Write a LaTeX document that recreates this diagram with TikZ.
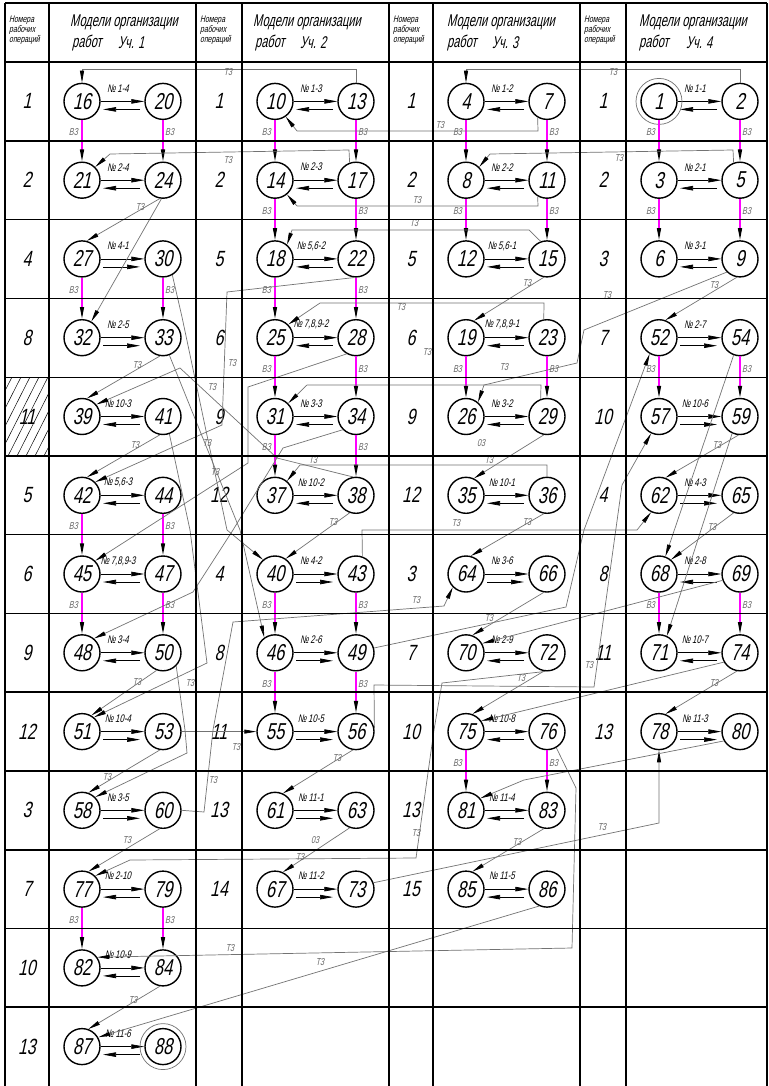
\documentclass[tikz,border=0pt]{standalone}
\usepackage{fontspec}
\usetikzlibrary{arrows.meta,calc}
\newfontfamily\gf[FakeSlant=0.22,FakeStretch=0.72]{Liberation Sans}
\newfontfamily\gh[FakeSlant=0.22,FakeStretch=0.65]{Liberation Sans}
\definecolor{mg}{RGB}{255,0,255}
\tikzset{
 ev/.style={circle,draw,line width=1.4pt,minimum size=36pt,inner sep=0pt,font=\gf\fontsize{23}{23}\selectfont},
 parr/.style={line width=0.7pt,-{Triangle[length=13pt,width=4.5pt]}},
 plab/.style={font=\gf\fontsize{11}{11}\selectfont,inner sep=0pt},
 tlink/.style={draw=black!55,line width=0.7pt,-{Triangle[length=12pt,width=4pt,color=black]}},
 vlink/.style={draw=mg,line width=1.4pt,-{Triangle[length=12pt,width=4pt,color=black]}},
 tlab/.style={font=\gf\fontsize{10}{10}\selectfont,text=black!60,inner sep=0pt},
 rnum/.style={font=\gf\fontsize{22}{22}\selectfont,inner sep=0pt},
 hsmall/.style={font=\gf\fontsize{9.5}{10}\selectfont,inner sep=0pt,align=left,anchor=north west},
 hbig/.style={font=\gh\fontsize{17}{17}\selectfont,inner sep=0pt,anchor=west},
 gline/.style={line width=1.6pt},
 tgline/.style={line width=0.8pt},
 ring/.style={circle,draw=black!55,line width=0.7pt,minimum size=46pt,inner sep=0pt},
}
\newcommand\mkpair[6]{%
  \node[ev] (n#1) at (#3,#4) {#1};
  \node[ev] (n#2) at (#3+81,#4) {#2};
  \draw[parr] (n#1) -- (n#2);
  \node[plab] at ($(n#1)+(36,-13)$) {№\,#5};
  \ifx L#6
    \draw[parr] ($(n#1)+(58,8)$) -- ($(n#1)+(21,8)$);
  \else
    \draw[parr] ($(n#1)+(21,8)$) -- ($(n#1)+(58,8)$);
  \fi
}
\newcommand\vpair[4]{%
  \draw[vlink] (n#1) -- (n#3);
  \draw[vlink] (n#2) -- (n#4);
  \node[tlab,anchor=east] at ($(n#1)+(-4,31)$) {В3};
  \node[tlab,anchor=west] at ($(n#2)+(2,31)$) {В3};
}
\begin{document}
\begin{tikzpicture}[x=1pt,y=-1pt]
\useasboundingbox (0,0) rectangle (768,1086);
\fill[white] (0,0) rectangle (768,1086);
% hatched cell
\begin{scope}
\clip (5,377.1) rectangle (49,455.9);
\foreach \k in {-6,...,8} \draw[line width=0.5pt] (\k*9-10,456) -- (\k*9+30,377);
\end{scope}
% headers
\foreach \x in {9,200,393,584} \node[hsmall] at (\x,16) {Номера\\рабочих\\операций};
\node[hbig] at (70,22) {Модели организации};
\node[hbig] at (72,43) {работ}; \node[hbig] at (118,43) {Уч. 1};
\node[hbig] at (253,22) {Модели организации};
\node[hbig] at (255,43) {работ}; \node[hbig] at (300,43) {Уч. 2};
\node[hbig] at (447,22) {Модели организации};
\node[hbig] at (447,43) {работ}; \node[hbig] at (492,43) {Уч. 3};
\node[hbig] at (639,22) {Модели организации};
\node[hbig] at (639,43) {работ}; \node[hbig] at (686,43) {Уч. 4};
% row numbers
\foreach \n [count=\i] in {1,2,4,8,11,5,6,9,12,3,7,10,13} \node[rnum] at (27,{62+78.77*(\i-0.5)}) {\n};
\foreach \n [count=\i] in {1,2,5,6,9,12,4,8,11,13,14} \node[rnum] at (219,{62+78.77*(\i-0.5)}) {\n};
\foreach \n [count=\i] in {1,2,5,6,9,12,3,7,10,13,15} \node[rnum] at (411,{62+78.77*(\i-0.5)}) {\n};
\foreach \n [count=\i] in {1,2,3,7,10,4,8,11,13} \node[rnum] at (603,{62+78.77*(\i-0.5)}) {\n};
% pairs column 1
\mkpair{16}{20}{82}{101.4}{1-4}{L}
\mkpair{21}{24}{82}{180.2}{2-4}{L}
\mkpair{27}{30}{82}{258.9}{4-1}{R}
\mkpair{32}{33}{82}{337.7}{2-5}{R}
\mkpair{39}{41}{82}{416.5}{10-3}{L}
\mkpair{42}{44}{82}{495.3}{5,6-3}{L}
\mkpair{45}{47}{82}{574.0}{7,8,9-3}{L}
\mkpair{48}{50}{82}{652.8}{3-4}{L}
\mkpair{51}{53}{82}{731.6}{10-4}{R}
\mkpair{58}{60}{82}{810.3}{3-5}{R}
\mkpair{77}{79}{82}{889.1}{2-10}{L}
\mkpair{82}{84}{82}{967.9}{10-9}{L}
\mkpair{87}{88}{82}{1046.6}{11-6}{L}
% column 2
\mkpair{10}{13}{275}{101.4}{1-3}{L}
\mkpair{14}{17}{275}{180.2}{2-3}{L}
\mkpair{18}{22}{275}{258.9}{5,6-2}{L}
\mkpair{25}{28}{275}{337.7}{7,8,9-2}{L}
\mkpair{31}{34}{275}{416.5}{3-3}{L}
\mkpair{37}{38}{275}{495.3}{10-2}{L}
\mkpair{40}{43}{275}{574.0}{4-2}{R}
\mkpair{46}{49}{275}{652.8}{2-6}{R}
\mkpair{55}{56}{275}{731.6}{10-5}{R}
\mkpair{61}{63}{275}{810.3}{11-1}{R}
\mkpair{67}{73}{275}{889.1}{11-2}{R}
% column 3
\mkpair{4}{7}{466}{101.4}{1-2}{L}
\mkpair{8}{11}{466}{180.2}{2-2}{L}
\mkpair{12}{15}{466}{258.9}{5,6-1}{L}
\mkpair{19}{23}{466}{337.7}{7,8,9-1}{L}
\mkpair{26}{29}{466}{416.5}{3-2}{L}
\mkpair{35}{36}{466}{495.3}{10-1}{L}
\mkpair{64}{66}{466}{574.0}{3-6}{R}
\mkpair{70}{72}{466}{652.8}{2-9}{L}
\mkpair{75}{76}{466}{731.6}{10-8}{L}
\mkpair{81}{83}{466}{810.3}{11-4}{L}
\mkpair{85}{86}{466}{889.1}{11-5}{L}
% column 4
\mkpair{1}{2}{659}{101.4}{1-1}{L}
\mkpair{3}{5}{659}{180.2}{2-1}{L}
\mkpair{6}{9}{659}{258.9}{3-1}{L}
\mkpair{52}{54}{659}{337.7}{2-7}{R}
\mkpair{57}{59}{659}{416.5}{10-6}{R}
\mkpair{62}{65}{659}{495.3}{4-3}{R}
\mkpair{68}{69}{659}{574.0}{2-8}{L}
\mkpair{71}{74}{659}{652.8}{10-7}{L}
\mkpair{78}{80}{659}{731.6}{11-3}{R}
\node[ring] (r1) at (n1) {};
\node[ring] (r88) at (n88) {};
% vertical site links
\vpair{16}{20}{21}{24}
\vpair{27}{30}{32}{33}
\vpair{42}{44}{45}{47}
\vpair{45}{47}{48}{50}
\vpair{77}{79}{82}{84}
\vpair{10}{13}{14}{17}
\vpair{14}{17}{18}{22}
\vpair{18}{22}{25}{28}
\vpair{25}{28}{31}{34}
\vpair{31}{34}{37}{38}
\vpair{40}{43}{46}{49}
\vpair{46}{49}{55}{56}
\vpair{4}{7}{8}{11}
\vpair{8}{11}{12}{15}
\vpair{19}{23}{26}{29}
\vpair{75}{76}{81}{83}
\vpair{1}{2}{3}{5}
\vpair{3}{5}{6}{9}
\vpair{52}{54}{57}{59}
\vpair{68}{69}{71}{74}
% T3 links
\draw[tlink] (n13.north) -- ++(0,-13) -| (n16.north);
\draw[tlink] (n2.north) -- ++(0,-13) -| (n4.north);
\draw[tlink] (n7.-120) -- (538,131) -- (297,131) -- (n10.-55);
\draw[tlink] (n17.110) -- (349,150) -- (110,154) -- (n21.45);
\draw[tlink] (n5.110) -- (733,150) -- (490,154) -- (n8.45);
\draw[tlink] (n11.-120) -- (538,206) -- (297,206) -- (n14.-50);
\draw[tlink] (n24.-100) -- (n27.75);
\draw[tlink] (n24.-95) -- (n32.60);
\draw[tlink] (n15.110) -- (529,230) -- (292,230) -- (n18.50);
\draw[tlink] (n15.-100) -- (n19.65);
\draw[tlink] (n22.-95) -- (227,292) -- (222,425) -- (n42.45);
\draw[tlink] (n23.100) -- (544,303) -- (320,303) -- (n25.45);
\draw[tlink] (n9.-135) -- (584,330) -- (577,363) -- (484,385) -- (n26.50);
\draw[tlink] (n9.-100) -- (n52.70);
\draw[tlink] (n28.-120) -- (248,387) -- (248,463) -- (n45.45);
\draw[tlink] (n33.-100) -- (n39.75);
\draw[tlink] (n38.100) -- (277,458) -- (180,368) -- (n39.40);
\draw[tlink] (n41.-100) -- (n42.75);
\draw[tlink] (n41.-70) -- (190,530) -- (207,663) -- (n51.50);
\draw[tlink] (n30.-60) -- (182,317) -- (227,530) -- (n40.130);
\draw[tlink] (n33.-70) -- (240,530) -- (n46.125);
\draw[tlink] (n34.-135) -- (283,448) -- (233,530) -- (193,592) -- (n48.50);
\draw[tlink] (n29.110) -- (541,385) -- (307,385) -- (n31.45);
\draw[tlink] (n29.-100) -- (n35.65);
\draw[tlink] (n36.north) -- (547,465) -- (300,465) -- (n37.50);
\draw[tlink] (n36.-100) -- (n64.75);
\draw[tlink] (n38.-110) -- (n40.55);
\draw[tlink] (n43.70) -- (362,530) -- (637,530) -- (n62.-115);
\draw[tlink] (n49.15) -- (566,607) -- (584,530) -- (n52.-120);
\draw[tlink] (n54.-110) -- (n68.70);
\draw[tlink] (n56.10) -- (374,685) -- (594,687) -- (622,485) -- (n57.-115);
\draw[tlink] (n56.-100) -- (n61.65);
\draw[tlink] (n59.-95) -- (n62.70);
\draw[tlink] (n59.-115) -- (n71.65);
\draw[tlink] (n60.east) -- (204,812) -- (213,730) -- (233,622) -- (444,606) -- (n64.-135);
\draw[tlink] (n63.-110) -- (n67.65);
\draw[tlink] (n65.-110) -- (n68.50);
\draw[tlink] (n66.-100) -- (n70.70);
\draw[tlink] (n69.-160) -- (n70.30);
\draw[tlink] (n72.-100) -- (n75.70);
\draw[tlink] (n72.-95) -- (442,683) -- (434,730) -- (416,858) -- (130,860) -- (n77.45);
\draw[tlink] (n73.20) -- (659,823) -- (n78.south);
\draw[tlink] (n74.-150) -- (n75.35);
\draw[tlink] (n74.-100) -- (n78.70);
\draw[tlink] (n76.-60) -- (576,788) -- (572,948) -- (n82.35);
\draw[tlink] (n80.-150) -- (524,780) -- (n81.40);
\draw[tlink] (n83.-100) -- (n85.70);
\draw[tlink] (n84.-100) -- (n87.70);
\draw[tlink] (n86.-115) -- (n87.30);
\draw[tlink] (n50.-110) -- (n51.60);
\draw[tlink] (n50.-45) -- (185,730) -- (187,753) -- (n58.45);
\draw[tlink] (n53.east) -- (n55.west);
\draw[tlink] (n53.-100) -- (n58.70);
\draw[tlink] (n60.-100) -- (n77.70);
% T3 labels
\foreach \p in {(228,72),(613,72),(440,125),(228,160),(619,158),(417,200),(140,207),(414,223),(527,283),(714,285),(607,295),(401,307),(232,363),(137,365),(212,387),(427,352),(504,367),(135,445),(207,443),(215,472),(313,460),(333,522),(489,460),(456,523),(527,522),(717,445),(712,527),(416,600),(489,618),(521,678),(589,665),(714,683),(190,683),(137,682),(236,747),(337,758),(107,777),(213,780),(127,840),(300,857),(416,833),(517,842),(602,827),(230,948),(320,962),(133,1000)}
  \node[tlab] at \p {Т3};
\node[tlab] at (481,443) {03};
\node[tlab] at (315,840) {03};
% grid
\draw[gline] (5,3) -- (767,3);
\draw[gline] (5,62) -- (767,62);
\foreach \x in {5,49,196,242,389,433,580,626,767} \draw[gline] (\x,3) -- (\x,1086);
\foreach \y in {140.8,219.5,298.3,455.9,534.6,613.4,692.2,770.9,849.7,928.5,1007.2} \draw[gline] (5,\y) -- (767,\y);
\draw[tgline] (5,377.1) -- (767,377.1);
\end{tikzpicture}
\end{document}
